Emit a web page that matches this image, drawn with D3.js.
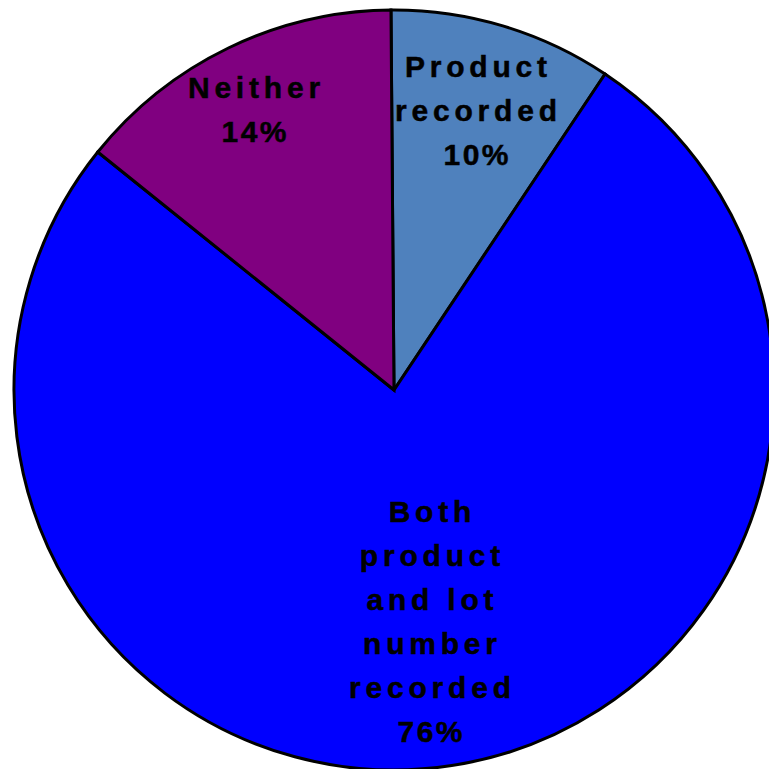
<!DOCTYPE html>
<html><head><meta charset="utf-8">
<script src="https://cdn.jsdelivr.net/npm/d3@7"></script>
<style>body{margin:0;background:#fff}svg{display:block}</style>
</head><body>
<script>
const categories = ["Product recorded", "Both product and lot number recorded", "Neither"];
const values = [9.5, 76.4, 14.1];
const labelLines = [["Product", "recorded", "10%"], ["Both", "product", "and lot", "number", "recorded", "76%"], ["Neither", "14%"]];
const colors = ["#4F81BD", "#0000FF", "#800080"];

const W = 769, H = 769;
const cx = 394, cy = 390, R = 380;
const svg = d3.select("body").append("svg").attr("width", W).attr("height", H);
const g = svg.append("g").attr("transform", `translate(${cx},${cy})`);

const pie = d3.pie().sort(null).value(d => d).startAngle(-0.008).endAngle(2 * Math.PI - 0.008);
const arcs = pie(values);
const arc = d3.arc().innerRadius(0).outerRadius(R);

g.selectAll("path").data(arcs).join("path")
  .attr("d", arc)
  .attr("fill", (d, i) => colors[i])
  .attr("stroke", "#000").attr("stroke-width", 3).attr("stroke-linejoin", "miter");

// label positions (centers of first line) relative to center
const labelPos = [[82, -324], [36, 121], [-140, -303]];
const lineH = 44;
labelLines.forEach((lines, i) => {
  const t = g.append("text")
    .attr("font-family", "Liberation Sans, Arial, sans-serif")
    .attr("font-weight", "bold").attr("font-size", 30)
    .attr("text-anchor", "middle").attr("fill", "#000")
    .attr("stroke", "#000").attr("stroke-width", 0.5);
  lines.forEach((ln, j) => {
    const ls = ln.includes("%") ? 2.5 : 4.8;
    t.append("tspan").attr("x", labelPos[i][0] + ls / 2).attr("y", labelPos[i][1] + j * lineH)
      .attr("dy", "0.35em").attr("letter-spacing", ls).text(ln);
  });
});
</script>
</body></html>
